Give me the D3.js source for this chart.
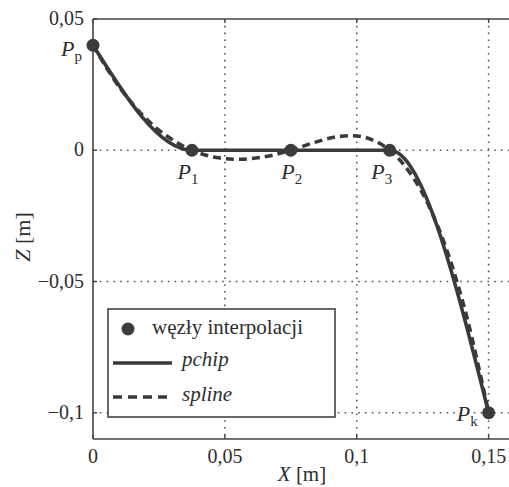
<!DOCTYPE html>
<html>
<head>
<meta charset="utf-8">
<script src="https://cdn.jsdelivr.net/npm/d3@7"></script>
<style>
  html, body { margin: 0; padding: 0; background: #fff; }
  svg { display: block; }
  text { font-family: "Liberation Serif", "DejaVu Serif", serif; fill: #2e2e2e; }
</style>
</head>
<body>
<svg id="chart" width="509" height="487"></svg>
<script>
// Interpolation nodes (X, Z in metres)
const nodeX = [0, 0.0375, 0.075, 0.1125, 0.15];
const nodeZ = [0.04, 0, 0, 0, -0.1];
const nodeNames = ["p", "1", "2", "3", "k"];

// Cubic spline trajectory sampled along X
const splineX = [0, 0.009375, 0.01875, 0.028125, 0.0375, 0.046875, 0.05625, 0.065625,
                 0.075, 0.084375, 0.09375, 0.103125, 0.1125, 0.121875, 0.13125, 0.140625, 0.15];
const splineZ = [0.04, 0.0249, 0.0134, 0.0053, 0, -0.0028, -0.0034, -0.0024,
                 0, 0.0031, 0.0053, 0.0049, 0, -0.0111, -0.0303, -0.0593, -0.1];

// Axis ticks
const xTicks = [0, 0.05, 0.1, 0.15];
const yTicks = [0.05, 0, -0.05, -0.1];
const xGrid = [0.05, 0.1, 0.15];
const yGrid = [0, -0.05, -0.1];

const legendLabels = ["węzły interpolacji", "pchip", "spline"];

const fmt = d => (d === 0 ? "0" : String(+d.toFixed(2)).replace(".", ",").replace("-", "\u2212"));

const svg = d3.select("#chart");
const plotLeft = 93, plotTop = 19, plotBottom = 439, plotRight = 515;

const x = d3.scaleLinear().domain([0, 0.16]).range([plotLeft, plotRight]);
const y = d3.scaleLinear().domain([-0.11, 0.05]).range([plotBottom, plotTop]);

const ink = "#3a3a3a";

// dotted grid
const grid = svg.append("g").attr("stroke", "#555").attr("stroke-width", 1.6)
  .attr("stroke-dasharray", "1.6,5.2");
grid.selectAll(".gx").data(xGrid).join("line")
  .attr("x1", d => x(d)).attr("x2", d => x(d))
  .attr("y1", y(0.05)).attr("y2", y(-0.11));
grid.selectAll(".gy").data(yGrid).join("line")
  .attr("y1", d => y(d)).attr("y2", d => y(d))
  .attr("x1", x(0)).attr("x2", x(0.16));

// axes frame
const frame = svg.append("g").attr("stroke", "#444").attr("stroke-width", 1.6).attr("fill", "none");
frame.append("line").attr("x1", x(0)).attr("x2", x(0)).attr("y1", y(0.05)).attr("y2", y(-0.11));
frame.append("line").attr("x1", x(0)).attr("x2", x(0.16)).attr("y1", y(0.05)).attr("y2", y(0.05));
frame.append("line").attr("x1", x(0)).attr("x2", x(0.16)).attr("y1", y(-0.11)).attr("y2", y(-0.11));

// tick marks (inward)
const ticks = svg.append("g").attr("stroke", "#444").attr("stroke-width", 1.4);
ticks.selectAll(".tb").data(xTicks).join("line")
  .attr("x1", d => x(d)).attr("x2", d => x(d)).attr("y1", y(-0.11)).attr("y2", y(-0.11) - 4);
ticks.selectAll(".tt").data(xTicks).join("line")
  .attr("x1", d => x(d)).attr("x2", d => x(d)).attr("y1", y(0.05)).attr("y2", y(0.05) + 4);
ticks.selectAll(".tl").data(yTicks).join("line")
  .attr("y1", d => y(d)).attr("y2", d => y(d)).attr("x1", x(0)).attr("x2", x(0) + 4);

// tick labels
svg.append("g").selectAll("text").data(xTicks).join("text")
  .attr("x", d => x(d)).attr("y", 463).attr("text-anchor", "middle")
  .attr("font-size", 20).text(fmt);
svg.append("g").selectAll("text").data(yTicks).join("text")
  .attr("x", 84).attr("y", d => y(d) + 6).attr("text-anchor", "end")
  .attr("font-size", 20).text(fmt);

// axis titles
const xt = svg.append("text").attr("x", 302).attr("y", 481).attr("text-anchor", "middle").attr("font-size", 21);
xt.append("tspan").attr("font-style", "italic").text("X");
xt.append("tspan").text(" [m]");
const yt = svg.append("text").attr("transform", "translate(30,237) rotate(-90)")
  .attr("text-anchor", "middle").attr("font-size", 22);
yt.append("tspan").attr("font-style", "italic").text("Z");
yt.append("tspan").text(" [m]");

// curves
const splinePts = splineX.map((v, i) => [v, splineZ[i]]);
const nodePts = nodeX.map((v, i) => [v, nodeZ[i]]);

svg.append("path").datum(splinePts)
  .attr("fill", "none").attr("stroke", ink).attr("stroke-width", 3.6)
  .attr("stroke-dasharray", "8,5")
  .attr("d", d3.line().x(d => x(d[0])).y(d => y(d[1])).curve(d3.curveCatmullRom.alpha(0.5)));

svg.append("path").datum(nodePts)
  .attr("fill", "none").attr("stroke", ink).attr("stroke-width", 3.6)
  .attr("d", d3.line().x(d => x(d[0])).y(d => y(d[1])).curve(d3.curveMonotoneX));

svg.append("g").selectAll("circle").data(nodePts).join("circle")
  .attr("cx", d => x(d[0])).attr("cy", d => y(d[1])).attr("r", 6.5).attr("fill", "#3c3c3c");

// node labels
const labelPos = [
  { dx: -11, dy: 11, anchor: "end" },
  { dx: -4, dy: 29, anchor: "middle" },
  { dx: 1, dy: 29, anchor: "middle" },
  { dx: -8, dy: 29, anchor: "middle" },
  { dx: -11, dy: 8, anchor: "end" }
];
const nl = svg.append("g").selectAll("text").data(nodePts).join("text")
  .attr("x", (d, i) => x(d[0]) + labelPos[i].dx)
  .attr("y", (d, i) => y(d[1]) + labelPos[i].dy)
  .attr("text-anchor", (d, i) => labelPos[i].anchor)
  .attr("font-size", 22);
nl.append("tspan").attr("font-style", "italic").text("P");
nl.append("tspan").attr("font-size", 15).attr("dy", 5).text((d, i) => nodeNames[i]);

// legend
const lg = svg.append("g");
lg.append("rect").attr("x", 108).attr("y", 309).attr("width", 227).attr("height", 108)
  .attr("fill", "#fff").attr("stroke", "#444").attr("stroke-width", 1.6);
lg.append("circle").attr("cx", 128).attr("cy", 329).attr("r", 6.5).attr("fill", "#3c3c3c");
lg.append("line").attr("x1", 113).attr("x2", 172).attr("y1", 363).attr("y2", 363)
  .attr("stroke", ink).attr("stroke-width", 3.6);
lg.append("line").attr("x1", 113).attr("x2", 172).attr("y1", 397).attr("y2", 397)
  .attr("stroke", ink).attr("stroke-width", 3.6).attr("stroke-dasharray", "9,6");
lg.append("text").attr("x", 152).attr("y", 334).attr("font-size", 21).text(legendLabels[0]);
lg.append("text").attr("x", 182).attr("y", 366).attr("font-size", 21).attr("font-style", "italic").text(legendLabels[1]);
lg.append("text").attr("x", 182).attr("y", 401).attr("font-size", 21).attr("font-style", "italic").text(legendLabels[2]);
</script>
</body>
</html>
